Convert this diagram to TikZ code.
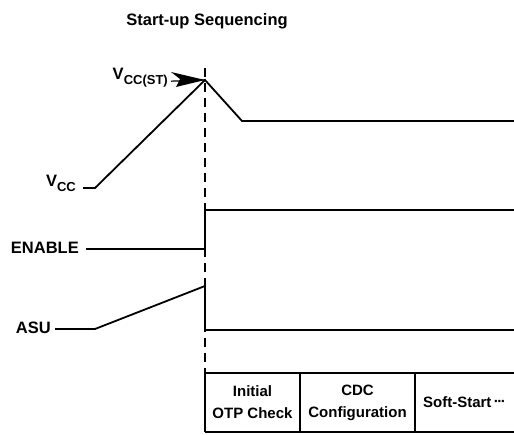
\documentclass[tikz,border=0pt]{standalone}
\usepackage{fontspec}
\setmainfont{Liberation Sans}
\usepackage{tikz}
\usetikzlibrary{positioning,arrows.meta}
\newcommand{\lowsub}[1]{\raisebox{-5pt}{\fontsize{13}{13}\selectfont #1}}
\newcommand{\threedots}{\raisebox{1pt}{\textperiodcentered\kern-1.5pt\textperiodcentered\kern-1.5pt\textperiodcentered}}

\begin{document}
\begin{tikzpicture}[x=1pt,y=-1pt,font=\fontsize{16.5}{18}\selectfont\bfseries,
  sig/.style={line width=1.8pt,line join=miter},
  marker/.style={line width=1.6pt,dash pattern=on 9pt off 6pt},
  lbl/.style={inner sep=0pt,anchor=base east},
  cell/.style={inner sep=0pt,outer sep=0pt,minimum height=59pt,align=center,font=\fontsize{15}{22}\selectfont\bfseries}]
\useasboundingbox (0,0) rectangle (514,435);
\node[anchor=base] (title) at (207,26) {Start-up Sequencing};

\coordinate (v0) at (83,188);
\coordinate (v1) at (95,188);
\coordinate (peak) at (205,80);
\coordinate (v2) at (242,121);
\coordinate (v3) at (514,121);
\coordinate (e0) at (86,249);
\coordinate (e1) at (205,249);
\coordinate (e2) at (205,210);
\coordinate (e3) at (514,210);
\coordinate (a0) at (55,329);
\coordinate (a1) at (95,329);
\coordinate (a2) at (205,286);
\coordinate (a3) at (205,330);
\coordinate (a4) at (514,330);
\coordinate (mtop) at (205,68);

\node[lbl] (vcc) at (76,187) {V\lowsub{CC}};
\node[lbl] (vst) at (168,80) {V\lowsub{CC(ST)}};
\node[lbl] (enable) at (79,254) {ENABLE};
\node[lbl] (asu) at (51,334) {ASU};

\node[cell,minimum width=95pt] (otp) at (252.5,402.5) {Initial\\OTP Check};
\node[cell,minimum width=115pt,right=0pt of otp] (cdc) {CDC\\Configuration};
\node[cell,minimum width=99pt,right=0pt of cdc] (soft) {Soft-Start\,\threedots};

\draw[marker] (mtop) -- (otp.north west);
\draw[sig] (v0) -- (v1) -- (peak) -- (v2) -- (v3);
\draw[sig] (e0) -- (e1) -- (e2) -- (e3);
\draw[sig] (a0) -- (a1) -- (a2) -- (a3) -- (a4);
\draw[line width=1.2pt] ([xshift=3pt,yshift=-3pt]vst.east) -- (peak);
\fill (peak) -- ++(-34,-8) -- ++(9,7) -- ++(-4,8) -- cycle;

\draw[sig] (otp.north west) -- (soft.north east) (otp.south west) -- (soft.south east)
  (otp.north west) -- (otp.south west) (otp.north east) -- (otp.south east)
  (cdc.north east) -- (cdc.south east);
\end{tikzpicture}
\end{document}
